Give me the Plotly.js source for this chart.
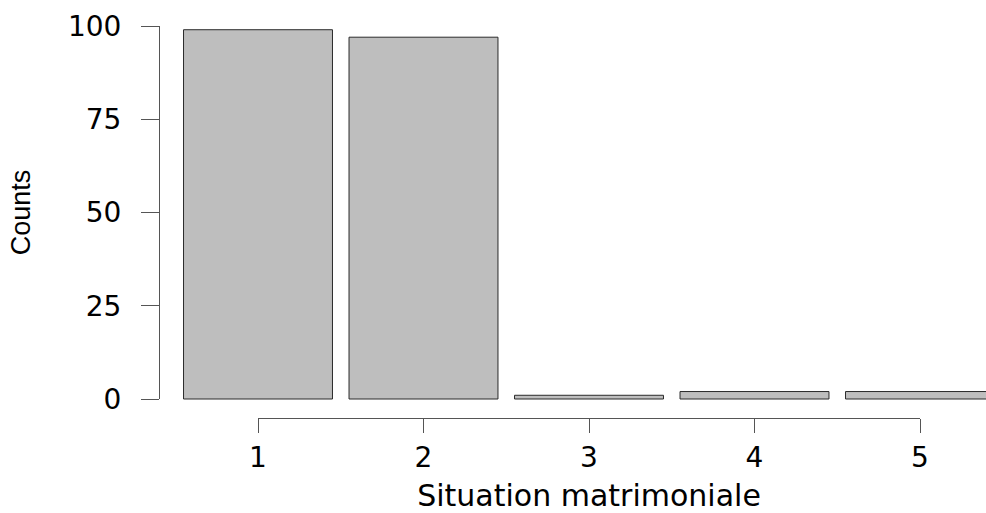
<!DOCTYPE html>
<html>
<head>
<meta charset="utf-8">
<script src="https://cdn.plot.ly/plotly-3.0.1.min.js"></script>
<style>html,body{margin:0;padding:0;background:#fff;}#chart{width:986px;height:513px;}</style>
</head>
<body>
<div id="chart"></div>
<script>
// Data
const categories = [1, 2, 3, 4, 5];
const categoryLabels = ['1', '2', '3', '4', '5'];
const counts = [99, 97, 1, 2, 2];
const yTickVals = [0, 25, 50, 75, 100];
const yTickText = ['0', '25', '50', '75', '100'];
const xTitle = 'Situation matrimoniale';
const yTitle = 'Counts';

const W = 986, H = 513;
// pixel geometry of the reference
const px1 = 258, px5 = 920;          // x of category 1 and 5
const pxY0 = 399, pxY100 = 26;       // y of 0 and 100
const step = (px5 - px1) / 4;
const perUnit = (pxY0 - pxY100) / 100;

const bars = {
  type: 'bar', x: categories, y: counts, width: 0.9,
  marker: {color: '#bebebe', line: {color: '#2a2a2a', width: 1}},
  xaxis: 'x', yaxis: 'y', hoverinfo: 'x+y', showlegend: false
};
const axisCarrier = {
  type: 'scatter', mode: 'markers', x: categories, y: counts,
  marker: {opacity: 0, size: 1}, xaxis: 'x2', yaxis: 'y2',
  hoverinfo: 'skip', showlegend: false
};

const font = {family: 'DejaVu Sans, Liberation Sans, Arial, sans-serif', size: 28, color: '#000'};

const layout = {
  width: W, height: H,
  margin: {l: 0, r: 0, t: 0, b: 0, pad: 0},
  paper_bgcolor: '#fff', plot_bgcolor: 'rgba(0,0,0,0)',
  showlegend: false,
  xaxis: {
    domain: [0, 1],
    range: [1 - px1 / step, 1 + (W - px1) / step],
    visible: false, fixedrange: true
  },
  yaxis: {
    domain: [0, 1],
    range: [-(H - pxY0) / perUnit, 100 + pxY100 / perUnit],
    visible: false, fixedrange: true
  },
  xaxis2: {
    domain: [px1 / W, px5 / W],
    range: [1, 5],
    anchor: 'free', position: 1 - 418 / H,
    showline: true, linecolor: '#555', linewidth: 1,
    showgrid: false, zeroline: false,
    ticks: 'outside', ticklen: 14, tickcolor: '#555', tickwidth: 1,
    tickmode: 'array', tickvals: categories, ticktext: categoryLabels,
    tickfont: font, ticklabelstandoff: 0,
    title: {text: xTitle, font: {family: font.family, size: 30, color: '#000'}, standoff: 19},
    automargin: false, fixedrange: true
  },
  yaxis2: {
    domain: [1 - pxY0 / H, 1 - pxY100 / H],
    range: [0, 100],
    anchor: 'free', position: 159 / W,
    showline: true, linecolor: '#555', linewidth: 1,
    showgrid: false, zeroline: false,
    ticks: 'outside', ticklen: 18, tickcolor: '#555', tickwidth: 1,
    tickmode: 'array', tickvals: yTickVals, ticktext: yTickText,
    tickfont: font, ticklabelstandoff: 14,
    title: {text: yTitle, font: {family: 'Liberation Sans, Arial, sans-serif', size: 27, color: '#000'}, standoff: 28},
    automargin: false, fixedrange: true
  }
};

Plotly.newPlot('chart', [bars, axisCarrier], layout, {displayModeBar: false, staticPlot: true});
</script>
</body>
</html>
